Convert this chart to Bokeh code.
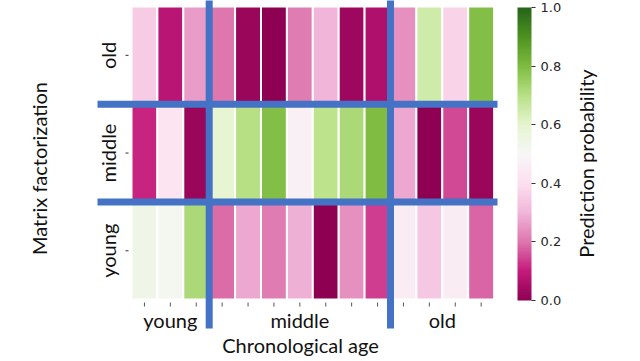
import math
import numpy as np
from bokeh.plotting import figure
from bokeh.models import (LinearColorMapper, ColorBar, FixedTicker, PrintfTickFormatter,
                          ColumnDataSource, Range1d)
from bokeh.core.properties import value
from bokeh.embed import file_html
from bokeh.resources import INLINE

# ---------------- data ----------------
group_labels = ["young", "middle", "old"]          # chronological age groups (x)
group_sizes = [3, 7, 4]                             # subjects per group
row_labels = ["young", "middle", "old"]            # matrix factorization (y, bottom -> top)

prob_young = [0.54, 0.52, 0.72, 0.19, 0.28, 0.21, 0.29, 0.00, 0.24, 0.14, 0.45, 0.34, 0.45, 0.18]
prob_middle = [0.11, 0.42, 0.02, 0.59, 0.70, 0.79, 0.47, 0.69, 0.72, 0.80, 0.28, 0.00, 0.15, 0.02]
prob_old = [0.35, 0.08, 0.26, 0.20, 0.02, 0.00, 0.21, 0.30, 0.03, 0.06, 0.24, 0.65, 0.37, 0.79]

cbar_ticks = [0.0, 0.2, 0.4, 0.6, 0.8, 1.0]
x_title = "Chronological age"
y_title = "Matrix factorization"
cbar_title = "Prediction probability"

# PiYG (ColorBrewer 11) interpolated to 256
piyg11 = ["#8e0152", "#c51b7d", "#de77ae", "#f1b6da", "#fde0ef", "#f7f7f7",
          "#e6f5d0", "#b8e186", "#7fbc41", "#4d9221", "#276419"]
anchors = np.linspace(0, 1, len(piyg11))
rgb = np.array([[int(h[i:i + 2], 16) for i in (1, 3, 5)] for h in piyg11], dtype=float)
t = np.linspace(0, 1, 256)
palette = ["#%02x%02x%02x" % tuple(int(round(np.interp(tt, anchors, rgb[:, k]))) for k in range(3))
           for tt in t]

# ---------------- layout (pixel geometry of the canvas) ----------------
FONT = "Lato"
TXT = "#111111"
BLUE = "#4472C4"
W, H = 624, 361
PX_X, ORG_X = 25.9, 131.0      # px per column, page x of heatmap left
PX_Y, ORG_Y = 97.7, 299.1      # px per row, page y of heatmap bottom


def dx(px):
    return (px - ORG_X) / PX_X


def dy(py):
    return (ORG_Y - py) / PX_Y


n_cols = sum(group_sizes)
n_rows = len(row_labels)
X0, X1 = dx(0), dx(W)
Y0, Y1 = dy(H), dy(0)

p = figure(frame_width=W, frame_height=H,
           x_range=Range1d(X0, X1), y_range=Range1d(Y0, Y1),
           output_backend="svg", toolbar_location=None,
           min_border_left=0, min_border_top=0, min_border_right=0, min_border_bottom=0)
p.outline_line_color = None
p.xgrid.visible = False
p.ygrid.visible = False
p.xaxis.visible = False
p.yaxis.visible = False

# ---------------- cells ----------------
rows = [prob_young, prob_middle, prob_old]
left, right, bottom, top, prob = [], [], [], [], []
for r, vals in enumerate(rows):
    for c, v in enumerate(vals):
        left.append(c); right.append(c + 1); bottom.append(r); top.append(r + 1); prob.append(v)
mapper = LinearColorMapper(palette=palette, low=0, high=1)
src = ColumnDataSource(dict(left=left, right=right, bottom=bottom, top=top, prob=prob))
p.quad(left="left", right="right", bottom="bottom", top="top", source=src,
       fill_color={"field": "prob", "transform": mapper}, line_color="white", line_width=2)

# ---------------- ticks and labels ----------------
col_centers = [c + 0.5 for c in range(n_cols)]
p.segment(x0=col_centers, y0=[dy(302)] * n_cols, x1=col_centers, y1=[dy(306)] * n_cols,
          line_color="#555555", line_width=1)
row_centers = [r + 0.5 for r in range(n_rows)]
p.segment(x0=[dx(125)] * n_rows, y0=row_centers, x1=[dx(128)] * n_rows, y1=row_centers,
          line_color="#333333", line_width=1)
p.text(x=[dx(107)] * n_rows, y=row_centers, text=row_labels, angle=math.pi / 2,
       text_align="center", text_baseline="middle", text_font=value(FONT),
       text_font_size="20px", text_color=TXT)

bounds = np.concatenate([[0], np.cumsum(group_sizes)])
group_centers = [(bounds[i] + bounds[i + 1]) / 2 for i in range(len(group_sizes))]
p.text(x=group_centers, y=[dy(319)] * len(group_labels), text=group_labels,
       text_align="center", text_baseline="middle", text_font=value(FONT),
       text_font_size="20px", text_color=TXT)

# ---------------- blue separators ----------------
vb = list(bounds[1:-1])
p.segment(x0=vb, y0=[dy(328)] * len(vb), x1=vb, y1=[Y1 + 0.1] * len(vb),
          line_color=BLUE, line_width=7)
hb = list(range(1, n_rows))
p.segment(x0=[dx(97)] * len(hb), y0=hb, x1=[dx(497)] * len(hb), y1=hb,
          line_color=BLUE, line_width=7)

# ---------------- titles ----------------
p.text(x=[dx(300)], y=[dy(344)], text=[x_title], text_align="center", text_baseline="middle",
       text_font=value(FONT), text_font_size="20px", text_color=TXT)
p.text(x=[dx(38)], y=[dy(168)], text=[y_title], angle=math.pi / 2, text_align="center",
       text_baseline="middle", text_font=value(FONT), text_font_size="20px", text_color=TXT)
p.text(x=[dx(585)], y=[dy(163)], text=[cbar_title], angle=math.pi / 2, text_align="center",
       text_baseline="middle", text_font=value(FONT), text_font_size="20px", text_color=TXT)

# ---------------- colour bar ----------------
cb = ColorBar(color_mapper=mapper, ticker=FixedTicker(ticks=cbar_ticks),
              formatter=PrintfTickFormatter(format="%.1f"),
              width=14, height=293, location=(517, H - 300), padding=0, margin=0,
              bar_line_color=None, major_tick_in=0, major_tick_out=4,
              major_tick_line_color="#333333", major_label_text_font="DejaVu Sans",
              major_label_text_font_size="13px", major_label_text_color="#262626",
              label_standoff=5, background_fill_alpha=0, border_line_color=None)
p.add_layout(cb)

open("out.html", "w").write(file_html(p, INLINE))
